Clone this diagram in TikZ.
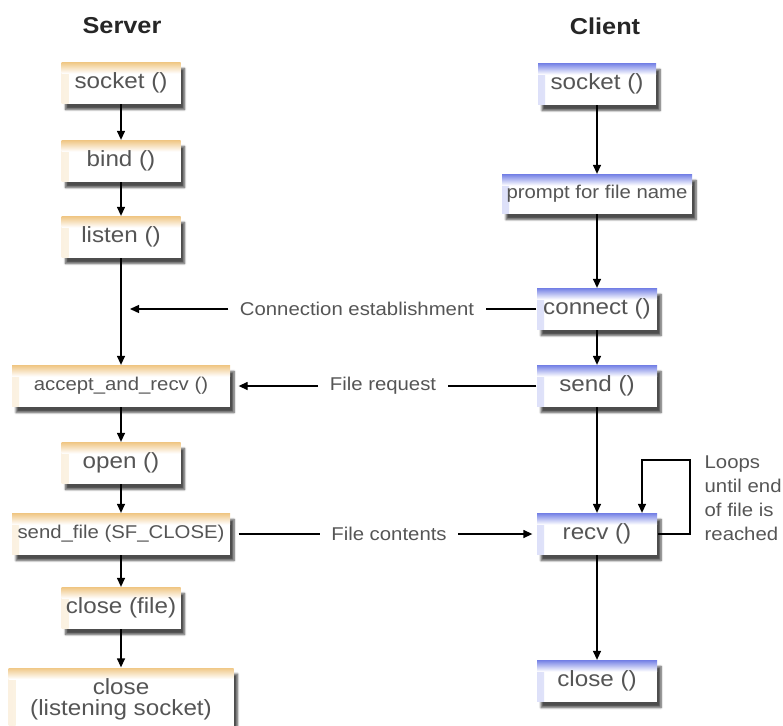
\documentclass[tikz,border=0pt]{standalone}
\usepackage{fontspec}
\setmainfont{Liberation Sans}[FakeStretch=1.1]
\usetikzlibrary{arrows.meta,shadows.blur}
\definecolor{srvtop}{RGB}{240,200,135}
\definecolor{clttop}{RGB}{120,132,230}
\definecolor{txtgray}{RGB}{85,85,85}

\begin{document}
\begin{tikzpicture}[x=1pt,y=-1pt,line width=1.3pt,
  box/.style={minimum height=41pt,inner sep=0pt,text=txtgray,fill=white,
    font=\fontsize{22}{24}\selectfont,
    blur shadow={shadow xshift=4pt,shadow yshift=-6pt,shadow blur steps=6,shadow opacity=70},
    path picture={
      \fill[left color=#1!25,right color=white] (path picture bounding box.north west)
        rectangle ([xshift=7pt]path picture bounding box.south west);
      \fill[top color=#1,middle color=#1!55,bottom color=white] (path picture bounding box.north west)
        rectangle ([yshift=-11pt]path picture bounding box.north east);}},
  srv/.style={box=srvtop},
  clt/.style={box=clttop},
  smalltext/.style={font=\fontsize{18.5}{20}\selectfont},
  lbl/.style={text=txtgray,font=\fontsize{18.5}{24}\selectfont,inner xsep=11pt},
  title/.style={font=\fontsize{23}{26}\selectfont\bfseries,text=black!85},
  flow/.style={-{Triangle[length=9pt,width=8pt]}}]
  \useasboundingbox (0,0) rectangle (783,725);

  \node[title] (srvtitle) at (122,26) {Server};
  \node[title] (clttitle) at (605,26) {Client};

  \node[srv,minimum width=119pt] (ssocket) at (121,83) {socket ()};
  \node[srv,minimum width=119pt] (sbind) at (121,161) {bind ()};
  \node[srv,minimum width=119pt] (slisten) at (121,237) {listen ()};
  \node[srv,smalltext,minimum width=218pt] (saccept) at (121,386) {accept\_and\_recv ()};
  \node[srv,minimum width=119pt] (sopen) at (121,463) {open ()};
  \node[srv,smalltext,minimum width=218pt] (ssendfile) at (121,534) {send\_file (SF\_CLOSE)};
  \node[srv,minimum width=119pt] (sclosefile) at (121,608) {close (file)};
  \node[srv,minimum width=225pt,minimum height=62pt,align=center,
    font=\fontsize{22}{21}\selectfont] (sclosesock) at (121,699) {close\\(listening socket)};

  \node[clt,minimum width=118pt] (csocket) at (597,84) {socket ()};
  \node[clt,smalltext,minimum width=190pt,minimum height=39pt] (cprompt) at (597,194) {prompt for file name};
  \node[clt,minimum width=120pt] (cconnect) at (597,309) {connect ()};
  \node[clt,minimum width=120pt] (csend) at (597,386) {send ()};
  \node[clt,minimum width=120pt] (crecv) at (597,534) {recv ()};
  \node[clt,minimum width=120pt] (cclose) at (597,681) {close ()};

  \draw[flow] (ssocket) -- (sbind);
  \draw[flow] (sbind) -- (slisten);
  \draw[flow] (slisten) -- (saccept);
  \draw[flow] (saccept) -- (sopen);
  \draw[flow] (sopen) -- (ssendfile);
  \draw[flow] (ssendfile) -- (sclosefile);
  \draw[flow] (sclosefile) -- (sclosesock);

  \draw[flow] (csocket) -- (cprompt);
  \draw[flow] (cprompt) -- (cconnect);
  \draw[flow] (cconnect) -- (csend);
  \draw[flow] (csend) -- (crecv);
  \draw[flow] (crecv) -- (cclose);

  \coordinate (sline) at (121,309);
  \node[lbl] (lconn) at (357,309) {Connection establishment};
  \draw (cconnect) -- (lconn);
  \draw[flow,shorten >=9pt] (lconn) -- (sline);

  \node[lbl] (lreq) at (383,386) {File request};
  \draw (csend) -- (lreq);
  \draw[flow,shorten >=8pt] (lreq) -- (saccept);

  \node[lbl] (lcont) at (389,534) {File contents};
  \draw[shorten <=8pt] (ssendfile) -- (lcont);
  \draw[flow,shorten >=4pt] (lcont) -- (crecv);

  \coordinate (loopr) at (690,460);
  \coordinate (loopl) at (642,460);
  \draw[flow] (crecv.east) -| (loopr) -- (loopl) -- (loopl |- crecv.north);
  \node[lbl,align=left,anchor=north west,inner sep=0pt] (lloop) at (704,455)
    {Loops\\until end\\of file is\\reached};
\end{tikzpicture}
\end{document}
